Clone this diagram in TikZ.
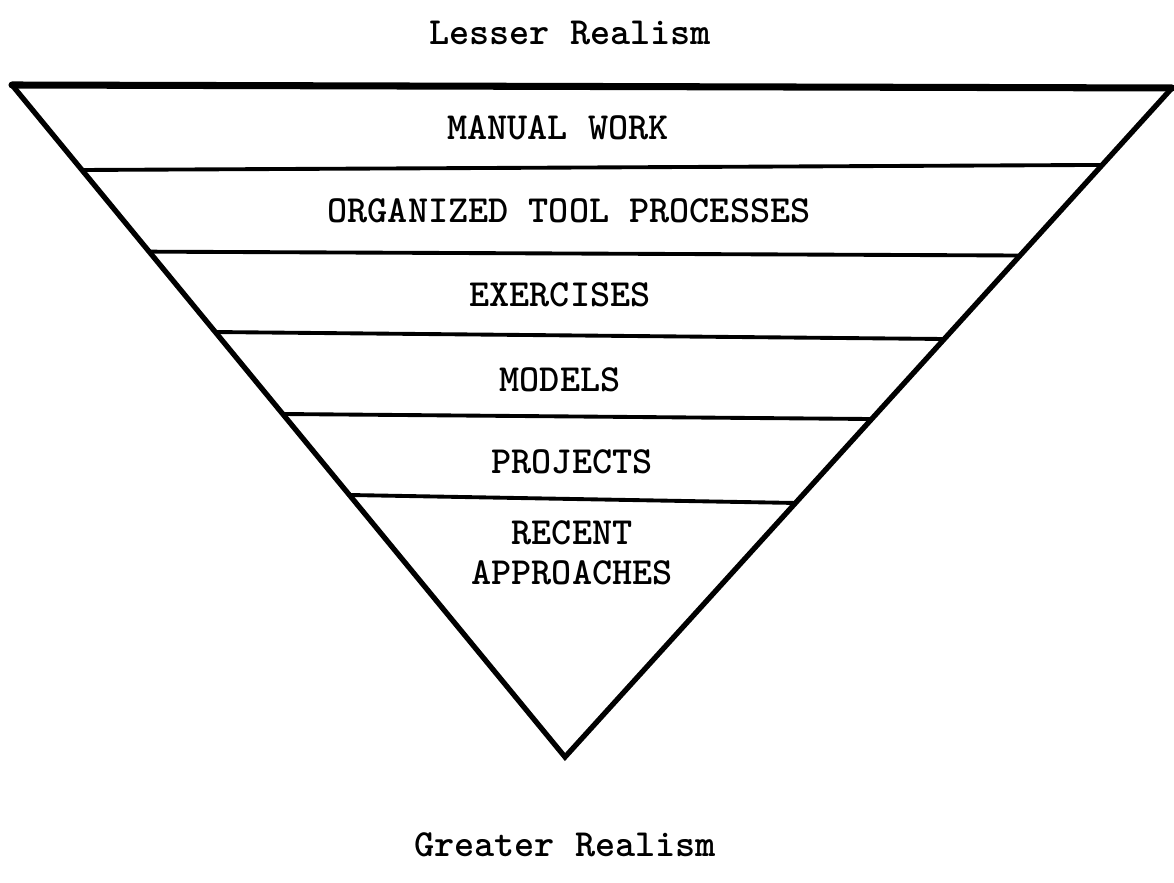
\documentclass[tikz,border=0pt]{standalone}
\usepackage{fontspec}
\usetikzlibrary{calc}
\begin{document}
\begin{tikzpicture}[x=0.01cm,y=-0.01cm,
  lbl/.style={font=\ttfamily\bfseries\fontsize{10.9}{11.4}\selectfont, inner sep=0pt, align=center},
  edge/.style={line width=1.5pt, line join=miter, line cap=round},
  band/.style={line width=1.1pt}]
\useasboundingbox (0,0) rectangle (1174,883);

% corners of the inverted triangle
\coordinate (TL) at (12,85);
\coordinate (TR) at (1172,88);
\coordinate (B)  at (565,757);

\draw[edge] (TL) -- (B) -- (TR);
\draw[line width=2pt, line cap=round] (TL) -- (TR);

% dividing lines between the bands
\foreach \i/\l/\r in {1/0.1265/0.115, 2/0.248/0.2504, 3/0.3676/0.3752, 4/0.4896/0.4948, 5/0.6101/0.6203}{
  \coordinate (L\i) at ($(TL)!\l!(B)$);
  \coordinate (R\i) at ($(TR)!\r!(B)$);
  \draw[band] (L\i) -- (R\i);
}

\node[lbl] (top) at (570,33) {Lesser Realism};
\node[lbl] (m1) at (558,128) {MANUAL WORK};
\node[lbl] (m2) at (569,211) {ORGANIZED TOOL PROCESSES};
\node[lbl] (m3) at (560,295) {EXERCISES};
\node[lbl] (m4) at (560,380) {MODELS};
\node[lbl] (m5) at (572,462) {PROJECTS};
\node[lbl] (m6) at (572,553) {RECENT\\APPROACHES};
\node[lbl] (bot) at (565,845) {Greater Realism};
\end{tikzpicture}
\end{document}
